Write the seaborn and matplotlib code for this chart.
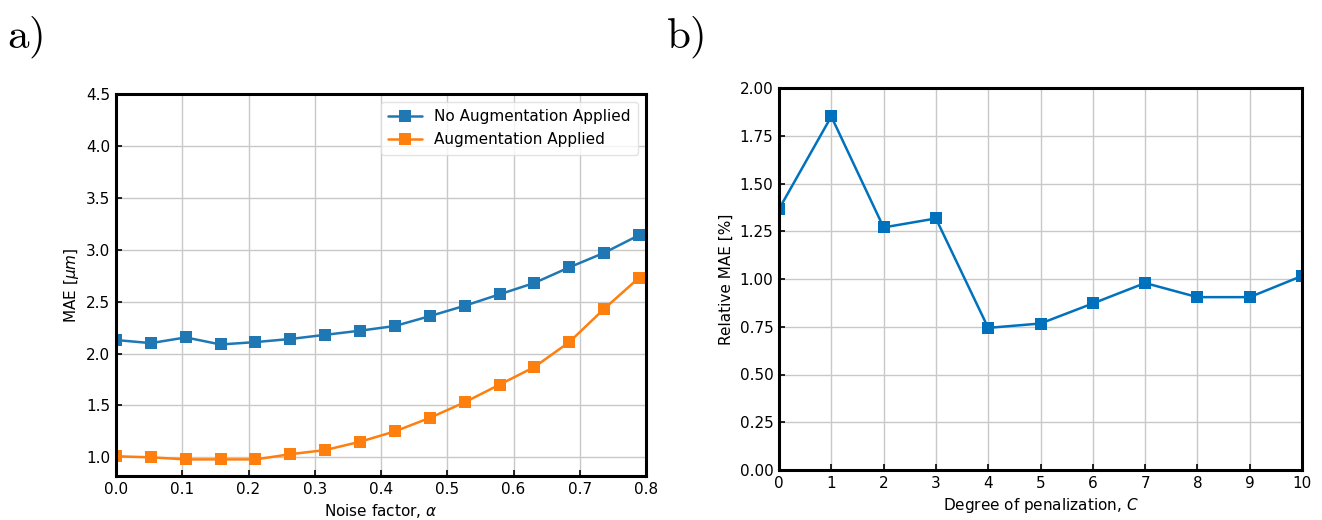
import numpy as np
import pandas as pd
import matplotlib
matplotlib.use("Agg")
import matplotlib.pyplot as plt
import seaborn as sns

# ---- data ----
noise_factor = [i / 19 for i in range(16)]
mae_no_aug = [2.13, 2.10, 2.155, 2.087, 2.11, 2.14, 2.18, 2.22, 2.265, 2.36,
              2.46, 2.57, 2.68, 2.83, 2.97, 3.14]
mae_aug = [1.01, 1.00, 0.98, 0.98, 0.98, 1.03, 1.07, 1.15, 1.25, 1.38,
           1.53, 1.70, 1.87, 2.11, 2.43, 2.73]
series_names = ["No Augmentation Applied", "Augmentation Applied"]

penalization = [0, 1, 2, 3, 4, 5, 6, 7, 8, 9, 10]
rel_mae = [1.366, 1.851, 1.270, 1.317, 0.744, 0.767, 0.872, 0.979, 0.905, 0.905, 1.016]

sns.set_theme(style="whitegrid")
plt.rcParams["font.family"] = ["DejaVu Sans"]
plt.rcParams["mathtext.fontset"] = "dejavusans"
plt.rcParams["text.color"] = "black"
plt.rcParams["axes.labelcolor"] = "black"

df_a = pd.DataFrame({
    "x": noise_factor * 2,
    "y": mae_no_aug + mae_aug,
    "series": [series_names[0]] * len(noise_factor) + [series_names[1]] * len(noise_factor),
})
df_b = pd.DataFrame({"x": penalization, "y": rel_mae})

fig = plt.figure(figsize=(13.22, 5.2), dpi=100)
ax1 = fig.add_axes([116 / 1322, 1 - 476 / 520, (646 - 116) / 1322, (476 - 94) / 520])
ax2 = fig.add_axes([779 / 1322, 1 - 470 / 520, (1302 - 779) / 1322, (470 - 88) / 520])

sns.lineplot(data=df_a, x="x", y="y", hue="series", hue_order=series_names,
             palette=["#1f77b4", "#ff7f0e"], marker="s", markersize=8,
             markeredgewidth=0, linewidth=1.8, ax=ax1)
sns.lineplot(data=df_b, x="x", y="y", color="#0072BD", marker="s", markersize=8,
             markeredgewidth=0, linewidth=1.8, ax=ax2)

for ax in (ax1, ax2):
    ax.grid(True, color="#c8c8c8", linewidth=1.0)
    for s in ax.spines.values():
        s.set_color("black")
        s.set_linewidth(2.2)
    ax.tick_params(direction="in", length=4, width=1.2, colors="black",
                   labelsize=11, bottom=True, left=True, pad=4)
    ax.set_axisbelow(True)
    ax.set_facecolor("white")

ax1.set_xlim(0, 0.8)
ax1.set_ylim(0.82, 4.5)
ax1.set_xticks(np.arange(0, 0.81, 0.1))
ax1.set_yticks(np.arange(1.0, 4.51, 0.5))
ax1.set_xlabel(r"Noise factor, $\alpha$", fontsize=11)
ax1.set_ylabel(r"MAE [$\mu m$]", fontsize=11)
leg = ax1.legend(loc="upper right", fontsize=11, frameon=True, fancybox=True,
                 borderpad=0.5, handlelength=2.2)
leg.get_frame().set_edgecolor("#dddddd")
leg.get_frame().set_linewidth(1.0)
for t in leg.get_texts():
    t.set_color("black")

ax2.set_xlim(0, 10)
ax2.set_ylim(0, 2.0)
ax2.set_xticks(range(0, 11))
ax2.set_yticks(np.arange(0, 2.01, 0.25))
ax2.yaxis.set_major_formatter(matplotlib.ticker.FormatStrFormatter("%.2f"))
ax2.set_xlabel(r"Degree of penalization, $C$", fontsize=11)
ax2.set_ylabel("Relative MAE [%]", fontsize=11)

fig.text(7 / 1322, 1 - 48 / 520, r"$\mathrm{a)}$", fontsize=31, math_fontfamily="cm",
         va="baseline", color="black")
fig.text(666 / 1322, 1 - 48 / 520, r"$\mathrm{b)}$", fontsize=31, math_fontfamily="cm",
         va="baseline", color="black")

fig.savefig("out.png", dpi=100, facecolor="white")
